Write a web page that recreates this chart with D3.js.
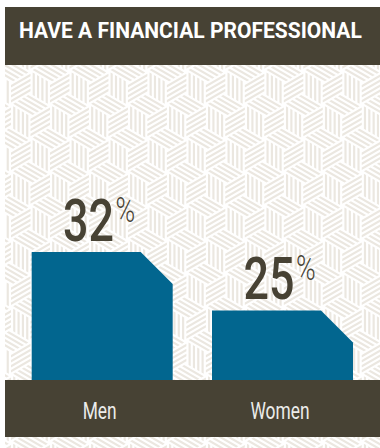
<!DOCTYPE html>
<html>
<head>
<meta charset="utf-8">
<script src="https://cdn.jsdelivr.net/npm/d3@7"></script>
<style>
  html, body { margin: 0; padding: 0; background: #ffffff; }
  svg { display: block; }
</style>
</head>
<body>
<script>
// Chart data
const title = "HAVE A FINANCIAL PROFESSIONAL";
const categories = ["Men", "Women"];
const values = [32, 25];
const unit = "%";

const W = 380, H = 448;
const card = { x: 5, y: 7, w: 375, h: 441 };
const header = { y: 7, h: 58 };
const band = { y: 380, h: 57 };

const colors = {
  dark: "#474234",
  bar: "#02668f",
  stripe: "#ebe7e0",
  label: "#ececea"
};
const font = "Roboto, 'DejaVu Sans', sans-serif";

const svg = d3.select("body").append("svg")
  .attr("width", W).attr("height", H);

// squeeze a text horizontally (condensed look) around its anchor
function condense(sel, sx) {
  sel.attr("transform", function () {
    const base = d3.select(this).attr("transform") || "";
    return base + ` scale(${sx},1)`;
  });
}

// ---- tumbling-block stripe background ----
const defs = svg.append("defs");
defs.append("clipPath").attr("id", "cardClip")
  .append("rect").attr("x", card.x).attr("y", card.y)
  .attr("width", card.w).attr("height", card.h);

svg.append("rect").attr("x", card.x).attr("y", card.y)
  .attr("width", card.w).attr("height", card.h).attr("fill", "#ffffff");

const bg = svg.append("g").attr("clip-path", "url(#cardClip)");
const side = 22.5;
const cw = side * Math.sqrt(3);
const u = [-cw / 2, -side / 2];   // to upper-left corner
const v = [0, side];              // down
const r = [cw / 2, -side / 2];    // to upper-right corner
const divisions = 9;

// stripes parallel to edge a, stacked along edge b
function stripes(c, a, b) {
  const polys = [];
  for (let k = 1; k < divisions; k += 2) {
    const t0 = k / divisions, t1 = (k + 1) / divisions;
    const p0 = [c[0] + b[0] * t0, c[1] + b[1] * t0];
    const p1 = [c[0] + b[0] * t1, c[1] + b[1] * t1];
    polys.push([p0, [p0[0] + a[0], p0[1] + a[1]], [p1[0] + a[0], p1[1] + a[1]], p1]);
  }
  return polys;
}

const faces = [];
const rowStep = side * 1.5;
for (let row = -1; row * rowStep < H + side * 2; row++) {
  const cy = card.y + row * rowStep + 8;
  const off = (row % 2 === 0) ? 0 : cw / 2;
  for (let cx = card.x - cw + off + 6; cx < W + cw; cx += cw) {
    const c = [cx, cy];
    faces.push(...stripes(c, v, u));   // left face: vertical stripes
    faces.push(...stripes(c, r, v));   // right face: rising stripes
    faces.push(...stripes(c, u, r));   // top face: falling stripes
  }
}
bg.selectAll("polygon").data(faces).join("polygon")
  .attr("points", d => d.map(p => p.join(",")).join(" "))
  .attr("fill", colors.stripe);

// ---- scales ----
const x = d3.scaleBand().domain(categories)
  .range([31.7, 353]).paddingInner(0.218).paddingOuter(0);
const y = d3.scaleLinear().domain([0, 40]).range([519, 185.4]);
const chamfer = 32;

// ---- bars ----
const data = categories.map((c, i) => ({ cat: c, value: values[i] }));
svg.append("g").selectAll("path").data(data).join("path")
  .attr("fill", colors.bar)
  .attr("d", d => {
    const x0 = x(d.cat), x1 = x0 + x.bandwidth();
    const top = y(d.value), base = band.y + 1;
    return `M${x0},${base}L${x0},${top}L${x1 - chamfer},${top}L${x1},${top + chamfer}L${x1},${base}Z`;
  });

// ---- value labels ----
const vl = svg.append("g").selectAll("text").data(data).join("text")
  .attr("transform", d => `translate(${x(d.cat) + x.bandwidth() / 2 - 3},${y(d.value) - 11.5})`)
  .attr("text-anchor", "middle")
  .attr("fill", colors.dark)
  .attr("font-family", font);
vl.append("tspan").attr("font-size", 59).attr("font-weight", 500).text(d => d.value);
vl.append("tspan").attr("font-size", 35).attr("font-weight", 300)
  .attr("dy", -19).attr("dx", 2).text(unit);
condense(vl, 0.76);

// ---- header ----
svg.append("rect").attr("x", card.x).attr("y", header.y)
  .attr("width", card.w).attr("height", header.h).attr("fill", colors.dark);
const tt = svg.append("text")
  .attr("transform", "translate(19,37.5)")
  .attr("fill", "#ffffff")
  .attr("font-family", font)
  .attr("font-weight", "bold")
  .attr("font-size", 22.5)
  .text(title);
condense(tt, 343 / tt.node().getComputedTextLength());

// ---- category band / axis ----
svg.append("rect").attr("x", card.x).attr("y", band.y)
  .attr("width", card.w).attr("height", band.h).attr("fill", colors.dark);
const axis = d3.axisBottom(x).tickSize(0).tickPadding(0);
const ax = svg.append("g").attr("transform", `translate(-2.5,${419.3})`).call(axis);
ax.select(".domain").remove();
const tickText = ax.selectAll("text")
  .attr("dy", 0)
  .attr("y", 0)
  .attr("fill", colors.label)
  .attr("font-family", font)
  .attr("font-size", 23.5);
condense(tickText, 0.74);
</script>
</body>
</html>
